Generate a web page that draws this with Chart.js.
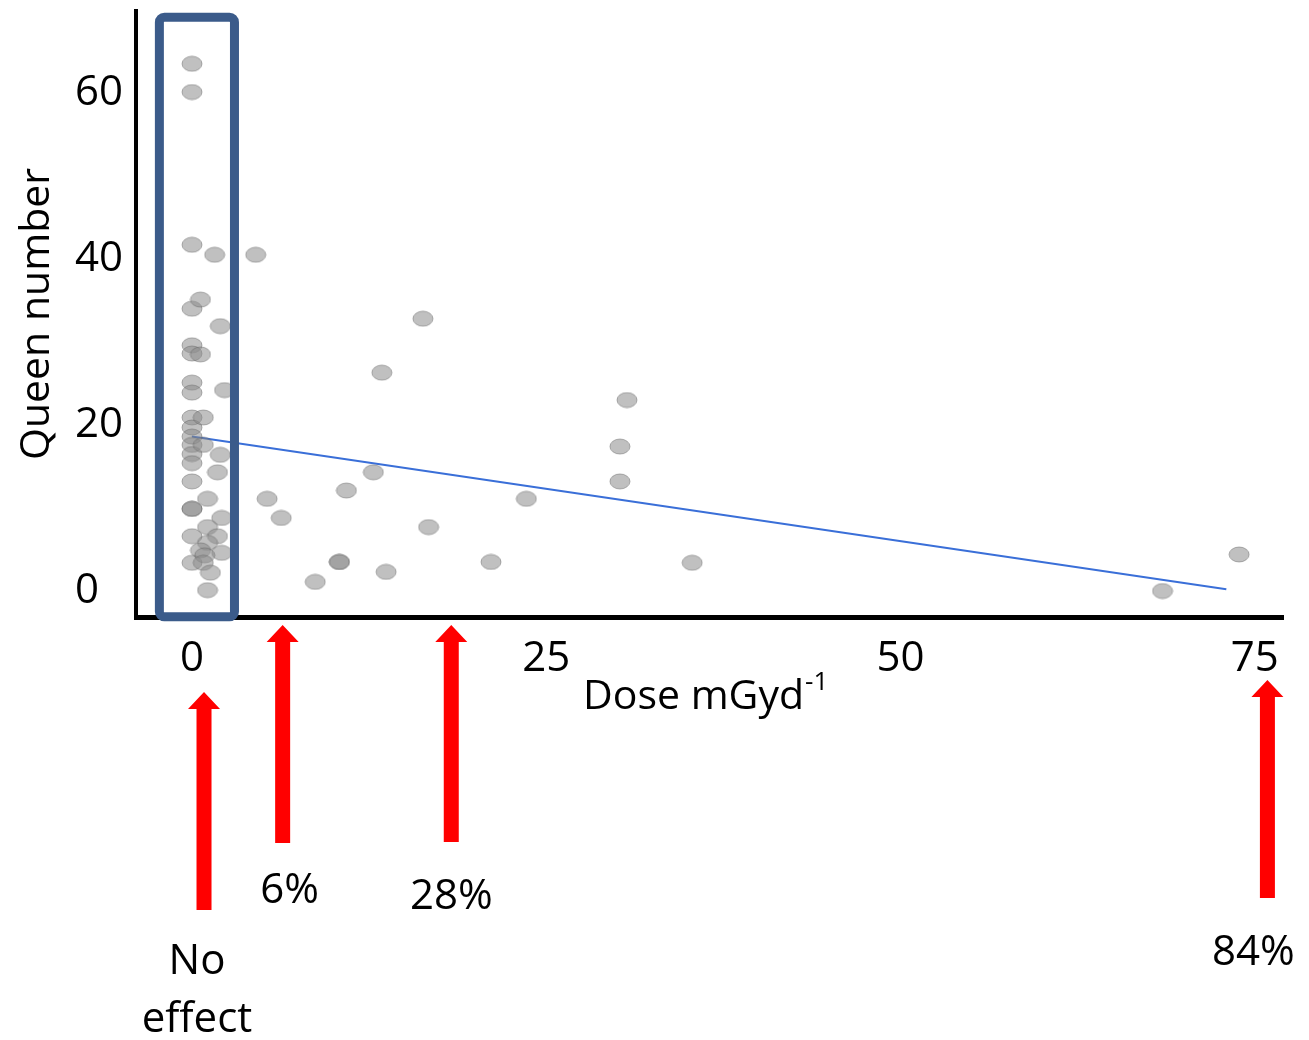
<!DOCTYPE html>
<html>
<head>
<meta charset="utf-8">
<script src="https://cdn.jsdelivr.net/npm/chart.js@4.4.1/dist/chart.umd.min.js"></script>
<style>
  html, body { margin: 0; padding: 0; background: #fff; }
  #wrap { width: 1309px; height: 1040px; position: relative; }
</style>
</head>
<body>
<div id="wrap"><canvas id="grafico"></canvas></div>
<script>
// Dados (dose em mGy/d, número de rainhas)
const doses = [
  0, 0, 0, 0, 0, 0, 0, 0, 0, 0, 0, 0, 0, 0, 0, 0, 0, 0, 0,
  0.6, 0.6, 0.8, 0.8, 2.0, 1.6, 2.3, 2.0, 1.8, 1.1, 2.1, 1.1, 1.8, 1.1, 0.6, 2.1, 0.9, 0.8, 1.3, 1.1,
  4.5, 5.3, 6.3, 8.7, 10.4, 10.4, 10.9, 12.8, 13.4, 13.7, 16.3, 16.7, 21.1, 23.6, 30.2, 30.2, 30.7, 35.3, 68.5, 73.9
];
const queens = [
  63.5, 60.1, 41.7, 34.0, 29.6, 28.6, 25.1, 23.9, 20.9, 19.7, 18.6, 17.6, 16.5, 15.4, 13.2, 9.9, 9.9, 6.6, 3.4,
  35.1, 28.5, 20.9, 17.6, 31.9, 40.5, 24.2, 16.4, 14.3, 11.1, 8.8, 7.7, 6.6, 5.8, 4.9, 4.6, 4.3, 3.4, 2.2, 0.1,
  40.5, 11.1, 8.8, 1.1, 3.5, 3.5, 12.1, 14.3, 26.3, 2.3, 32.8, 7.7, 3.5, 11.1, 17.4, 13.2, 23.0, 3.4, 0.0, 4.4
];

// linha de tendência (extremos)
const trendDoses = [0, 73.0];
const trendQueens = [18.6, 0.2];

const xTicks = [0, 25, 50, 75];
const yTicks = [0, 20, 40, 60];

// setas vermelhas: dose apontada e texto
const effectDoses = [0.85, 6.4, 18.3, 75.9];
const effectLabels = [["No", "effect"], ["6%"], ["28%"], ["84%"]];

// caixa azul em volta da dose zero
const boxDoses = [-2.3, 3.0];
const boxQueens = [-3.1, 69.1];

Chart.defaults.font.family = '"Open Sans", sans-serif';
Chart.defaults.color = '#000';

// marcador elíptico cinza semitransparente
const dot = document.createElement('canvas');
dot.width = 22; dot.height = 17;
const dc = dot.getContext('2d');
dc.beginPath();
dc.ellipse(11, 8.5, 10, 7.5, 0, 0, 2 * Math.PI);
dc.fillStyle = 'rgba(140,140,140,0.55)';
dc.fill();
dc.strokeStyle = 'rgba(95,95,95,0.45)';
dc.lineWidth = 1;
dc.stroke();

function desenharSeta(ctx, cx, tip, base) {
  const hw = 16, sw = 7.5, hh = 17;
  ctx.beginPath();
  ctx.moveTo(cx, tip);
  ctx.lineTo(cx + hw, tip + hh);
  ctx.lineTo(cx + sw, tip + hh);
  ctx.lineTo(cx + sw, base);
  ctx.lineTo(cx - sw, base);
  ctx.lineTo(cx - sw, tip + hh);
  ctx.lineTo(cx - hw, tip + hh);
  ctx.closePath();
  ctx.fillStyle = '#FF0000';
  ctx.fill();
}

const anotacoes = {
  id: 'anotacoes',
  afterDraw(chart) {
    const { ctx, scales: { x, y } } = chart;
    ctx.save();

    // título do eixo x com expoente
    ctx.fillStyle = '#000';
    ctx.textAlign = 'left';
    ctx.textBaseline = 'alphabetic';
    ctx.font = '41px "Open Sans"';
    const txt = 'Dose mGyd';
    ctx.fillText(txt, 583, 709);
    const w = ctx.measureText(txt).width;
    ctx.font = '26px "Open Sans"';
    ctx.fillText('-1', 583 + w + 1, 690);

    // setas e percentagens
    const tips = [692, 625, 625, 680];
    const bases = [910, 843, 842, 898];
    const textDx = [-7, 7, 0, -14];
    const textY = [962, 891, 897, 953];
    ctx.font = '42px "Open Sans"';
    ctx.textAlign = 'center';
    ctx.textBaseline = 'middle';
    effectDoses.forEach((d, i) => {
      const cx = x.getPixelForValue(d);
      desenharSeta(ctx, cx, tips[i], bases[i]);
      ctx.fillStyle = '#000';
      effectLabels[i].forEach((t, j) => ctx.fillText(t, cx + textDx[i], textY[i] + j * 58));
    });

    // caixa azul
    const x0 = x.getPixelForValue(boxDoses[0]);
    const x1 = x.getPixelForValue(boxDoses[1]);
    const y0 = y.getPixelForValue(boxQueens[1]);
    const y1 = y.getPixelForValue(boxQueens[0]);
    ctx.strokeStyle = '#3B5B8A';
    ctx.lineWidth = 9;
    ctx.lineJoin = 'round';
    ctx.beginPath();
    if (ctx.roundRect) ctx.roundRect(x0, y0, x1 - x0, y1 - y0, 5);
    else ctx.rect(x0, y0, x1 - x0, y1 - y0);
    ctx.stroke();

    ctx.restore();
  }
};

const pontos = doses.map((d, i) => ({ x: d, y: queens[i] }));
const tendencia = trendDoses.map((d, i) => ({ x: d, y: trendQueens[i] }));

new Chart(document.getElementById('grafico'), {
  type: 'scatter',
  data: {
    datasets: [
      {
        label: 'Queen number',
        data: pontos,
        pointStyle: dot,
        pointRadius: 10,
        showLine: false
      },
      {
        label: 'Trend',
        data: tendencia,
        showLine: true,
        borderColor: '#3A6FD8',
        borderWidth: 2,
        pointRadius: 0
      }
    ]
  },
  options: {
    responsive: true,
    maintainAspectRatio: false,
    animation: false,
    layout: { padding: { left: 75, top: 10, right: 26, bottom: 0 } },
    plugins: { legend: { display: false }, tooltip: { enabled: false } },
    scales: {
      x: {
        type: 'linear',
        min: -3.95,
        max: 77.0,
        afterBuildTicks: s => { s.ticks = xTicks.map(v => ({ value: v })); },
        afterFit: s => { s.height = 423; s.paddingLeft = 0; s.paddingRight = 0; },
        grid: { display: false, drawTicks: false },
        border: { display: true, color: '#000', width: 5 },
        ticks: { color: '#000', font: { size: 42 }, padding: 17, maxRotation: 0, autoSkip: false }
      },
      y: {
        type: 'linear',
        min: -3.13,
        max: 69.86,
        afterBuildTicks: s => { s.ticks = yTicks.map(v => ({ value: v })); },
        afterFit: s => { s.width = 61; s.paddingTop = 0; s.paddingBottom = 0; },
        grid: { display: false, drawTicks: false },
        border: { display: true, color: '#000', width: 4 },
        ticks: { color: '#000', font: { size: 42 }, padding: 0, crossAlign: 'far' },
        title: { display: true, text: 'Queen number', color: '#000', font: { size: 41 }, padding: { top: -62, bottom: 0 } }
      }
    }
  },
  plugins: [anotacoes]
});
</script>
</body>
</html>
